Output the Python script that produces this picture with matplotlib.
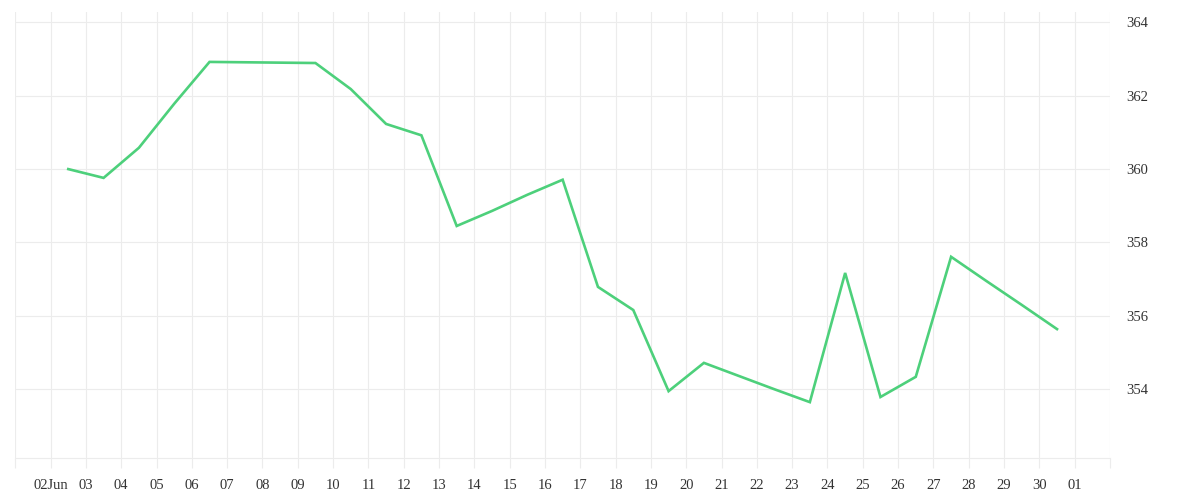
import datetime as dt
import matplotlib
matplotlib.use("Agg")
import matplotlib.pyplot as plt
import matplotlib.dates as mdates

# daily values, plotted at noon of each day (Jun 2 .. Jun 30)
start_day = dt.datetime(2023, 6, 2, 12)
values = [360.00, 359.76, 360.58, 361.78, 362.92, 362.91, 362.90, 362.89,
          362.18, 361.23, 360.92, 358.45, 358.86, 359.30, 359.71, 356.79,
          356.16, 353.95, 354.72, 354.36, 354.00, 353.65, 357.17, 353.79,
          354.34, 357.61, 356.95, 356.30, 355.64]
dates = [start_day + dt.timedelta(days=i) for i in range(len(values))]

y_ticks = [354, 356, 358, 360, 362, 364]
tick_days = [dt.datetime(2023, 6, 1) + dt.timedelta(days=i) for i in range(32)]
tick_labels = ["" if i in (0, 31) else ("02Jun" if i == 1 else d.strftime("%d"))
               for i, d in enumerate(tick_days)]

GRID = "#ececec"
TXT = "#333333"

plt.rcParams["font.family"] = ["Liberation Serif", "DejaVu Serif"]

fig = plt.figure(figsize=(12, 5), dpi=100)
ax = fig.add_axes([15.3 / 1200, 1 - 458.3 / 500, (1110 - 15.3) / 1200, (458.3 - 12) / 500])

ax.plot(dates, values, color="#4dd07b", lw=1.9, solid_joinstyle="miter", zorder=3)

ax.set_xlim(tick_days[0], tick_days[-1])
ax.set_ylim(352.12, 364.28)

ax.set_xticks(tick_days)
ax.set_xticklabels(tick_labels)
ax.set_yticks(y_ticks)
ax.yaxis.tick_right()

ax.grid(True, color=GRID, lw=0.8)
ax.set_axisbelow(True)
for s in ("top", "left", "right"):
    ax.spines[s].set_visible(False)
ax.spines["bottom"].set_color(GRID)
ax.spines["bottom"].set_linewidth(0.8)

ax.tick_params(axis="x", length=7, width=0.8, color=GRID, pad=8,
               labelsize=10.5, labelcolor=TXT)
ax.tick_params(axis="y", length=0, pad=12, labelsize=10.5, labelcolor=TXT)

fig.savefig("out.png", dpi=100, facecolor="white")
